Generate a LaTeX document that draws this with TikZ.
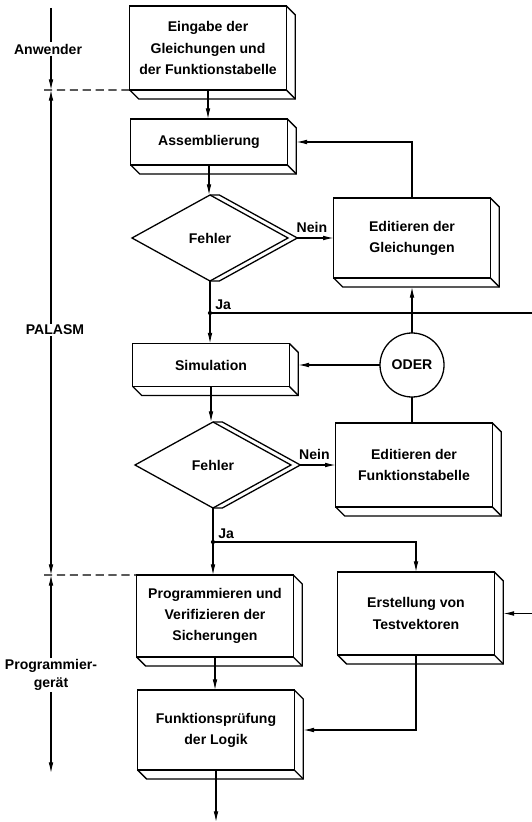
\documentclass[tikz,border=0pt]{standalone}
\usepackage{fontspec}
\setmainfont{Liberation Sans}
\usepackage{tikz}
\usetikzlibrary{shapes.geometric,arrows.meta}

\tikzset{
	boxline/.style={line width=1.1pt},
	box/.style={draw, boxline, rectangle, outer sep=0pt, minimum width=4.7cm, align=center, font=\bfseries\fontsize{12}{18}\selectfont},
	dia/.style={draw, boxline, diamond, outer sep=0pt, inner sep=0pt, minimum width=4.68cm, minimum height=2.58cm, font=\bfseries\fontsize{12}{18}\selectfont},
	oderc/.style={draw, boxline, circle, outer sep=0pt, inner sep=0pt, minimum size=1.92cm, font=\bfseries\fontsize{12}{18}\selectfont},
	lbl/.style={align=center, inner sep=1pt, font=\bfseries\fontsize{12}{15}\selectfont},
	flow/.style={line width=0.9pt, -{Latex[length=3.2mm,width=1.4mm]}},
	link/.style={line width=0.9pt}
}
\newcommand{\slab}[1]{
	\draw[boxline] (#1.north east) -- ++(0.27cm,-0.27cm) -- ([shift={(0.27cm,-0.27cm)}]#1.south east) -- ([shift={(0.27cm,-0.27cm)}]#1.south west) -- (#1.south west);
	\draw[boxline] (#1.south east) -- ++(0.27cm,-0.27cm);}
\newcommand{\dslab}[1]{
	\draw[boxline] (#1.north) -- ([xshift=0.28cm]#1.north) -- ([xshift=0.28cm]#1.east) -- ([xshift=0.28cm]#1.south) -- (#1.south);}

\begin{document}
\begin{tikzpicture}[x=0.03cm,y=-0.03cm]
	\useasboundingbox[fill=white] (0,0) rectangle (531,822);
	\node[box, minimum height=2.52cm] (ein) at (208,48) {Eingabe der\\Gleichungen und\\der Funktionstabelle};
	\node[box, minimum height=1.38cm] (asm) at (209,142) {Assemblierung};
	\node[dia] (f1) at (210,238) {Fehler};
	\node[box, minimum height=2.4cm] (edg) at (412,238) {Editieren der\\Gleichungen};
	\coordinate (j1) at (210,313);
	\coordinate (rim) at (545,313);
	\node[box, minimum height=1.29cm] (sim) at (211,365) {Simulation};
	\node[oderc] (oder) at (412,365) {ODER};
	\node[dia] (f2) at (213,465) {Fehler};
	\node[box, minimum height=2.52cm] (eft) at (414,465) {Editieren der\\Funktionstabelle};
	\coordinate (j2) at (213,542);
	\node[box, minimum height=2.46cm] (prg) at (215,616) {Programmieren und\\Verifizieren der\\Sicherungen};
	\node[box, minimum height=2.49cm] (tst) at (416,613.5) {Erstellung von\\Testvektoren};
	\node[box, minimum height=2.4cm] (fkt) at (216,730) {Funktionsprüfung\\der Logik};
	\coordinate (ende) at (216,822);
	\foreach \b in {ein,asm,edg,sim,eft,prg,tst,fkt}
		\slab{\b};
	\dslab{f1}
	\dslab{f2}

	\draw[flow] (ein.south) -- (ein.south |- asm.north);
	\draw[flow] (asm.south) -- (asm.south |- f1.north);
	\draw[flow] ([xshift=0.28cm]f1.east) -- (edg.west) node[lbl, pos=0.4, above=3pt] (nein1) {Nein};
	\draw[flow] (edg.north) |- ([xshift=0.27cm]asm.east);
	\draw[link] (f1.south) -- (j1);
	\node[lbl, anchor=south west] (ja1) at ([xshift=0.12cm,yshift=0.05cm]j1) {Ja};
	\draw[flow] (j1) -- (j1 |- sim.north);
	\draw[flow] (j1) -- (rim) |- ([xshift=0.27cm]tst.east);
	\draw[flow] (oder.west) -- ([xshift=0.27cm]sim.east);
	\draw[flow] (oder.north) -- ([yshift=-0.27cm]edg.south);
	\draw[link] (oder.south) -- (oder.south |- eft.north);
	\draw[flow] (sim.south) -- (sim.south |- f2.north);
	\draw[flow] ([xshift=0.28cm]f2.east) -- (eft.west) node[lbl, pos=0.4, above=3pt] (nein2) {Nein};
	\draw[link] (f2.south) -- (j2);
	\node[lbl, anchor=south west] (ja2) at ([xshift=0.12cm,yshift=0.05cm]j2) {Ja};
	\draw[flow] (j2) -- (j2 |- prg.north);
	\draw[flow] (j2) -| (tst.north);
	\draw[flow] (prg.south) -- (prg.south |- fkt.north);
	\draw[flow] (tst.south) |- ([xshift=0.27cm]fkt.east);
	\draw[flow] (fkt.south) -- (fkt.south |- ende);
	\fill (j1) circle (1.8pt);
	\fill (j2) circle (1.8pt);

	\coordinate (ax) at (51,8);
	\coordinate (s1) at (44,90);
	\coordinate (s2) at (44,575);
	\coordinate (axend) at (51,773);
	\node[lbl] (anw) at (48,49) {Anwender};
	\node[lbl] (pal) at (55,330) {PALASM};
	\node[lbl] (pgr) at (51,675) {Programmier-\\gerät};
	\draw[link] (ax) -- (ax |- anw.north);
	\draw[flow] (ax |- anw.south) -- (ax |- s1);
	\draw[flow] (ax |- pal.north) -- (ax |- s1);
	\draw[flow] (ax |- pal.south) -- (ax |- s2);
	\draw[flow] (ax |- pgr.north) -- (ax |- s2);
	\draw[flow] (ax |- pgr.south) -- (axend);
	\draw[line width=1pt, dash pattern=on 7pt off 4pt] (s1) -- (ein.south west);
	\draw[line width=1pt, dash pattern=on 7pt off 4pt] (s2) -- (prg.north west);
\end{tikzpicture}
\end{document}
